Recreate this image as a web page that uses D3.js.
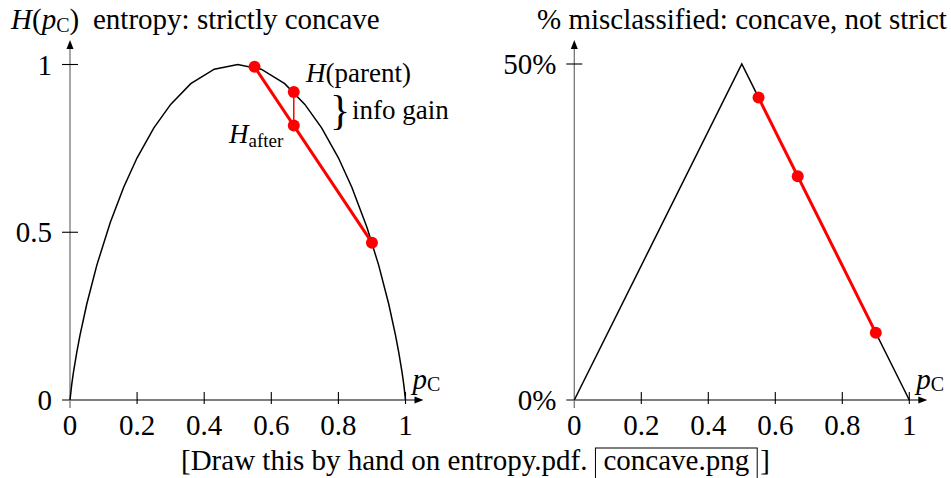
<!DOCTYPE html>
<html>
<head>
<meta charset="utf-8">
<script src="https://cdn.jsdelivr.net/npm/d3@7"></script>
<style>
  body { margin: 0; background: #fff; }
  text { font-family: "Liberation Serif", "Times New Roman", serif; fill: #000; }
</style>
</head>
<body>
<div id="chart"></div>
<script>
var entropyP = [0, 0.005, 0.01, 0.02, 0.03, 0.05, 0.08, 0.12, 0.16, 0.2, 0.25, 0.3, 0.36, 0.43, 0.5,
                0.57, 0.64, 0.7, 0.75, 0.8, 0.84, 0.885, 0.92, 0.95, 0.97, 0.98, 0.99, 0.995, 1];
var entropyH = [0, 0.045, 0.081, 0.141, 0.194, 0.286, 0.402, 0.529, 0.634, 0.722, 0.811, 0.881, 0.943, 0.986, 1,
                0.986, 0.943, 0.881, 0.811, 0.722, 0.634, 0.515, 0.402, 0.286, 0.194, 0.141, 0.081, 0.045, 0];

// misclassification rate
var errP = [0, 0.5, 1];
var errV = [0, 0.5, 0];

// the split: two children and the parent between them
var splitP = [0.55, 0.667, 0.9];
var splitH = [0.993, 0.918, 0.469];
var hAfter = 0.818;
var splitErr = [0.45, 0.333, 0.1];

var xTicks = [0, 0.2, 0.4, 0.6, 0.8, 1];
var xTickLabels = ["0", "0.2", "0.4", "0.6", "0.8", "1"];
var yTicksL = [0, 0.5, 1];
var yTickLabelsL = ["0", "0.5", "1"];
var yTicksR = [0, 0.5];
var yTickLabelsR = ["0%", "50%"];

var W = 951, H = 478;
var fs = 29;
var red = "#ff0000";

var svg = d3.select("#chart").append("svg")
  .attr("width", W).attr("height", H);

var xL = d3.scaleLinear().domain([0, 1]).range([70, 405.5]);
var yL = d3.scaleLinear().domain([0, 1]).range([400, 64.5]);
var xR = d3.scaleLinear().domain([0, 1]).range([574.3, 909.3]);
var yR = d3.scaleLinear().domain([0, 0.5]).range([400, 64]);

function drawAxes(x, y, yTicks, yLabels) {
  var g = svg.append("g");
  var x0 = x(0), y0 = y(0);
  var xEnd = x(1) + 12, yTop = 48;

  // x axis + arrow
  g.append("line").attr("x1", x0 - 8).attr("x2", xEnd).attr("y1", y0).attr("y2", y0)
    .attr("stroke", "#000").attr("stroke-width", 1.2);
  g.append("path").attr("d", `M${xEnd + 6},${y0} L${xEnd - 3},${y0 - 3.5} L${xEnd - 3},${y0 + 3.5} Z`)
    .attr("fill", "#000");

  // y axis + arrow
  g.append("line").attr("x1", x0).attr("x2", x0).attr("y1", y0 + 8).attr("y2", yTop)
    .attr("stroke", "#777").attr("stroke-width", 1.3);
  g.append("path").attr("d", `M${x0},${yTop - 8} L${x0 - 3.5},${yTop + 1} L${x0 + 3.5},${yTop + 1} Z`)
    .attr("fill", "#000");

  // x ticks
  xTicks.forEach(function(t, i) {
    if (i > 0) {
      g.append("line").attr("x1", x(t)).attr("x2", x(t)).attr("y1", y0 - 8).attr("y2", y0 + 4)
        .attr("stroke", "#000").attr("stroke-width", 1.1);
    }
    g.append("text").attr("x", x(t)).attr("y", y0 + 35)
      .attr("text-anchor", "middle").attr("font-size", fs).text(xTickLabels[i]);
  });

  // y ticks
  yTicks.forEach(function(t, i) {
    if (i > 0) {
      g.append("line").attr("x1", x0 - 8).attr("x2", x0 + 8).attr("y1", y(t)).attr("y2", y(t))
        .attr("stroke", "#000").attr("stroke-width", 1.1);
    }
    g.append("text").attr("x", x0 - 18).attr("y", y(t) + 10)
      .attr("text-anchor", "end").attr("font-size", fs).text(yLabels[i]);
  });

  // p_C label at end of x axis
  var lab = g.append("text").attr("x", x(1) + 7).attr("y", y0 - 11).attr("font-size", fs);
  lab.append("tspan").attr("font-style", "italic").text("p");
  lab.append("tspan").attr("font-size", 20).attr("dy", 2).text("C");
}

drawAxes(xL, yL, yTicksL, yTickLabelsL);
drawAxes(xR, yR, yTicksR, yTickLabelsR);

// ---------- left panel ----------
var lineL = d3.line().x(function(d, i) { return xL(entropyP[i]); }).y(function(d) { return yL(d); });
svg.append("path").attr("d", lineL(entropyH))
  .attr("fill", "none").attr("stroke", "#000").attr("stroke-width", 1.5);

// thin red line parent -> after
svg.append("line")
  .attr("x1", xL(splitP[1])).attr("x2", xL(splitP[1]))
  .attr("y1", yL(splitH[1])).attr("y2", yL(hAfter))
  .attr("stroke", red).attr("stroke-width", 1.5);

// chord between the children
svg.append("line")
  .attr("x1", xL(splitP[0])).attr("y1", yL(splitH[0]))
  .attr("x2", xL(splitP[2])).attr("y2", yL(splitH[2]))
  .attr("stroke", red).attr("stroke-width", 3);

var dotsL = [[splitP[0], splitH[0]], [splitP[1], splitH[1]], [splitP[1], hAfter], [splitP[2], splitH[2]]];
svg.selectAll("circle.dl").data(dotsL).enter().append("circle")
  .attr("class", "dl")
  .attr("cx", function(d) { return xL(d[0]); })
  .attr("cy", function(d) { return yL(d[1]); })
  .attr("r", 6).attr("fill", red);

// labels
var tp = svg.append("text").attr("x", 306).attr("y", 82).attr("font-size", 27);
tp.append("tspan").attr("font-style", "italic").text("H");
tp.append("tspan").text("(parent)");

svg.append("text").attr("x", 330).attr("y", 124).attr("font-size", 42).text("}");
svg.append("text").attr("x", 352).attr("y", 119).attr("font-size", 27).text("info gain");

var ta = svg.append("text").attr("x", 229).attr("y", 143).attr("font-size", 27);
ta.append("tspan").attr("font-style", "italic").text("H");
ta.append("tspan").attr("font-size", 19).attr("dy", 4).text("after");

// left title
var t1 = svg.append("text").attr("x", 11).attr("y", 29).attr("font-size", fs);
t1.append("tspan").attr("font-style", "italic").text("H");
t1.append("tspan").text("(");
t1.append("tspan").attr("font-style", "italic").text("p");
t1.append("tspan").attr("font-size", 20).attr("dy", 3).text("C");
t1.append("tspan").attr("dy", -3).text(")");
t1.append("tspan").attr("x", 93).text("entropy: strictly concave");

// ---------- right panel ----------
var lineR = d3.line().x(function(d, i) { return xR(errP[i]); }).y(function(d) { return yR(d); });
svg.append("path").attr("d", lineR(errV))
  .attr("fill", "none").attr("stroke", "#000").attr("stroke-width", 1.5);

svg.append("line")
  .attr("x1", xR(splitP[0])).attr("y1", yR(splitErr[0]))
  .attr("x2", xR(splitP[2])).attr("y2", yR(splitErr[2]))
  .attr("stroke", red).attr("stroke-width", 3);

svg.selectAll("circle.dr").data(splitP).enter().append("circle")
  .attr("class", "dr")
  .attr("cx", function(d) { return xR(d); })
  .attr("cy", function(d, i) { return yR(splitErr[i]); })
  .attr("r", 6).attr("fill", red);

svg.append("text").attr("x", 537).attr("y", 29).attr("font-size", fs)
  .text("% misclassified: concave, not strict");

// ---------- bottom note ----------
var note = svg.append("g");
var n1 = note.append("text").attr("y", 470).attr("font-size", fs).text("[Draw this by hand on entropy.pdf.");
var n2 = note.append("text").attr("y", 470).attr("font-size", fs).text("concave.png");
var n3 = note.append("text").attr("y", 470).attr("font-size", fs).text("]");
var w1 = n1.node().getComputedTextLength();
var w2 = n2.node().getComputedTextLength();
var start = 181;
var boxX = start + w1 + 8;
n1.attr("x", start);
n2.attr("x", boxX + 8);
n3.attr("x", boxX + w2 + 16 + 3);
note.append("rect")
  .attr("x", boxX).attr("y", 448)
  .attr("width", w2 + 16).attr("height", 40)
  .attr("fill", "none").attr("stroke", "#000").attr("stroke-width", 1);
</script>
</body>
</html>
